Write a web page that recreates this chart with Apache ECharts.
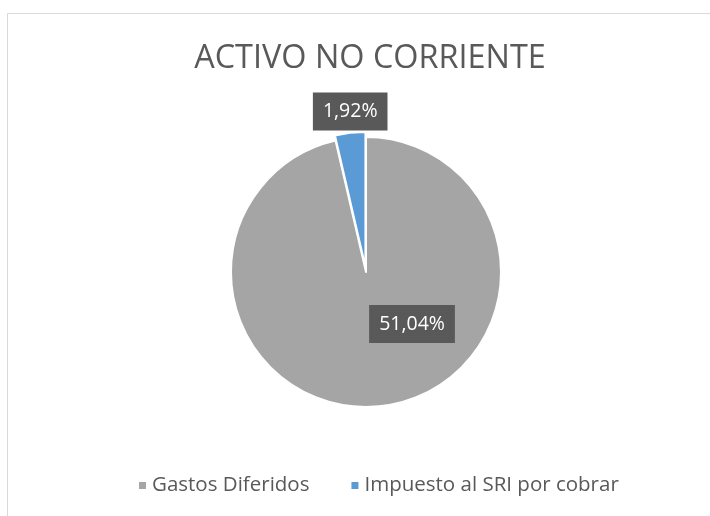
<!DOCTYPE html>
<html>
<head>
<meta charset="utf-8">
<script src="https://cdn.jsdelivr.net/npm/echarts@6/dist/echarts.min.js"></script>
<style>
  html, body { margin: 0; padding: 0; background: #fff; }
  #main { width: 710px; height: 516px; }
</style>
</head>
<body>
<div id="main"></div>
<script>
var categories = ['Gastos Diferidos', 'Impuesto al SRI por cobrar']
var values = [51.04, 1.92]
var colors = ['#a5a5a5', '#5b9bd5']

// posicion de las etiquetas (ajuste manual como en Excel)
var labelOffsets = [[38, -18], [0, -88]]

var myChart = echarts.init(document.getElementById('main'))

function pieLabel(i) {
  return {
    show: true,
    position: 'inside',
    offset: labelOffsets[i],
    formatter: function (p) {
      return p.value.toFixed(2).replace('.', ',') + '%'
    },
    fontFamily: 'Open Sans',
    fontSize: 19.5,
    color: '#fff',
    backgroundColor: '#595959',
    padding: [9, 10, 9, 10]
  }
}

var option = {
  backgroundColor: '#fff',
  title: {
    text: 'ACTIVO NO CORRIENTE',
    left: 365,
    textAlign: 'center',
    top: 38,
    textStyle: {
      fontFamily: 'Open Sans',
      fontWeight: 'normal',
      fontSize: 32.4,
      color: '#595959'
    }
  },
  legend: {
    top: 470,
    left: 132,
    icon: 'rect',
    itemWidth: 9,
    itemHeight: 9,
    itemGap: 40,
    selectedMode: false,
    textStyle: {
      fontFamily: 'Open Sans',
      fontSize: 20.5,
      color: '#595959'
    },
    data: categories
  },
  graphic: [{
    type: 'rect',
    shape: { x: 7.5, y: 13.5, width: 800, height: 600 },
    style: { fill: 'none', stroke: '#d9d9d9', lineWidth: 1 }
  }],
  series: [{
    type: 'pie',
    center: [366, 272],
    radius: [0, 135],
    startAngle: 90,
    avoidLabelOverlap: false,
    selectedMode: 'single',
    selectedOffset: 5,
    animation: false,
    itemStyle: {
      borderColor: '#fff',
      borderWidth: 2
    },
    labelLine: { show: false },
    emphasis: { disabled: true },
    data: categories.map(function (name, i) {
      return {
        name: name,
        value: values[i],
        selected: i === 1,
        itemStyle: { color: colors[i] },
        label: pieLabel(i),
        select: { label: pieLabel(i), itemStyle: { color: colors[i] } }
      }
    })
  }]
}

myChart.setOption(option)
</script>
</body>
</html>
